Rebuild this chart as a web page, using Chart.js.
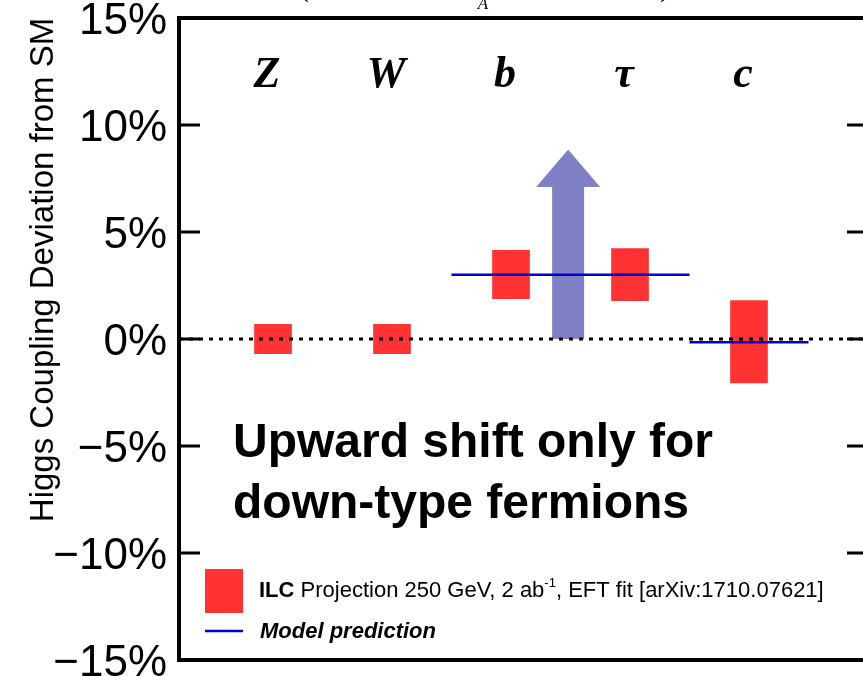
<!DOCTYPE html>
<html>
<head>
<meta charset="utf-8">
<script src="https://cdn.jsdelivr.net/npm/chart.js@4.4.1/dist/chart.umd.min.js"></script>
<style>
  html, body { margin: 0; padding: 0; overflow: hidden; background: #fff; }
  #wrap { width: 880px; height: 676px; }
</style>
</head>
<body>
<div id="wrap"><canvas id="myChart" width="880" height="676"></canvas></div>
<script>
// couplings along the x axis
var categories = ['Z', 'W', 'b', '\u03c4', 'c'];
var catPos = [1, 2, 3, 4, 5];

// ILC projection boxes (percent)
var ilcLow = [-0.69, -0.69, 1.88, 1.79, -2.05];
var ilcHigh = [0.68, 0.68, 4.14, 4.23, 1.79];

// model prediction segments
var modelFrom = [2.5, 4.5];
var modelTo = [4.5, 5.5];
var modelValue = [3.0, -0.15];

// shift arrow (percent)
var arrowX = 3.48;
var arrowBase = 0;
var arrowHeadBase = 7.1;
var arrowTip = 8.86;

var yTicks = [-15, -10, -5, 0, 5, 10, 15];
var xMin = 0.21, xMax = 6.0;

var SANS = '"Liberation Sans", Arial, Helvetica, sans-serif';
var SERIF = '"Liberation Serif", "Times New Roman", serif';

function pct(v) {
    return (v < 0 ? '\u2212' + Math.abs(v) : '' + v) + '%';
}

var boxData = [];
for (var i = 0; i < catPos.length; i++) {
    boxData.push({x: catPos[i], y: [ilcLow[i], ilcHigh[i]]});
}

var modelSets = [];
for (var j = 0; j < modelFrom.length; j++) {
    modelSets.push({
        type: 'line',
        data: [{x: modelFrom[j], y: modelValue[j]}, {x: modelTo[j], y: modelValue[j]}],
        borderColor: '#0000cc',
        borderWidth: 2.5,
        pointRadius: 0,
        order: 2
    });
}

var decor = {
    id: 'decor',
    beforeDatasetsDraw: function (chart) {
        var ctx = chart.ctx;
        var xs = chart.scales.x, ys = chart.scales.y;
        var cx = xs.getPixelForValue(arrowX);
        var yb = ys.getPixelForValue(arrowBase);
        var yh = ys.getPixelForValue(arrowHeadBase);
        var yt = ys.getPixelForValue(arrowTip);
        ctx.save();
        ctx.fillStyle = 'rgb(128,128,198)';
        ctx.beginPath();
        ctx.moveTo(cx - 16, yb);
        ctx.lineTo(cx - 16, yh);
        ctx.lineTo(cx - 32, yh);
        ctx.lineTo(cx, yt);
        ctx.lineTo(cx + 32, yh);
        ctx.lineTo(cx + 16, yh);
        ctx.lineTo(cx + 16, yb);
        ctx.closePath();
        ctx.fill();
        ctx.restore();
    },
    afterDraw: function (chart) {
        var ctx = chart.ctx;
        var a = chart.chartArea;
        var xs = chart.scales.x, ys = chart.scales.y;
        ctx.save();

        // frame
        ctx.strokeStyle = '#000';
        ctx.lineWidth = 4;
        ctx.strokeRect(a.left, a.top, a.right - a.left, a.bottom - a.top);

        // inward ticks on both sides
        ctx.lineWidth = 3;
        yTicks.forEach(function (t) {
            if (t === yTicks[0] || t === yTicks[yTicks.length - 1]) return;
            var y = ys.getPixelForValue(t);
            ctx.beginPath();
            ctx.moveTo(a.left, y);
            ctx.lineTo(a.left + 21, y);
            ctx.moveTo(a.right, y);
            ctx.lineTo(a.right - 21, y);
            ctx.stroke();
        });

        // coupling names
        ctx.fillStyle = '#000';
        ctx.textAlign = 'center';
        ctx.textBaseline = 'alphabetic';
        ctx.font = 'bold italic 44px ' + SERIF;
        categories.forEach(function (c, k) {
            ctx.fillText(c, xs.getPixelForValue(catPos[k]) - 6, 87);
        });

        // annotation
        ctx.textAlign = 'left';
        ctx.font = 'bold 48px ' + SANS;
        ctx.fillText('Upward shift only for', 233, 457);
        ctx.fillText('down-type fermions', 233, 518);

        // legend
        ctx.fillStyle = '#ff3333';
        ctx.fillRect(205, 569, 38, 44);
        ctx.strokeStyle = '#0000cc';
        ctx.lineWidth = 2.5;
        ctx.beginPath();
        ctx.moveTo(205, 631);
        ctx.lineTo(243, 631);
        ctx.stroke();

        ctx.fillStyle = '#000';
        var lx = 259, ly = 597;
        ctx.font = 'bold 22px ' + SANS;
        ctx.fillText('ILC', lx, ly);
        lx += ctx.measureText('ILC').width;
        ctx.font = '22px ' + SANS;
        var s1 = ' Projection 250 GeV, 2 ab';
        ctx.fillText(s1, lx, ly);
        lx += ctx.measureText(s1).width;
        ctx.font = '13px ' + SANS;
        ctx.fillText('-1', lx, ly - 10);
        lx += ctx.measureText('-1').width;
        ctx.font = '22px ' + SANS;
        ctx.fillText(', EFT fit [arXiv:1710.07621]', lx, ly);

        ctx.font = 'bold italic 22px ' + SANS;
        ctx.fillText('Model prediction', 260, 638);

        // y axis title
        ctx.save();
        ctx.translate(53, 270);
        ctx.rotate(-Math.PI / 2);
        ctx.textAlign = 'center';
        ctx.font = '33px ' + SANS;
        ctx.fillText('Higgs Coupling Deviation from SM', 0, 0);
        ctx.restore();

        // cut-off title at the top
        ctx.font = 'italic 17px ' + SERIF;
        ctx.textAlign = 'center';
        ctx.fillText('A', 483, 9);
        ctx.font = '30px ' + SERIF;
        ctx.fillText('(', 304, -4);
        ctx.fillText(')', 665, -4);

        ctx.restore();
    }
};

var ctx = document.getElementById('myChart');
var myChart = new Chart(ctx, {
    type: 'bar',
    data: {
        datasets: [{
                label: 'ILC',
                data: boxData,
                backgroundColor: '#ff3333',
                borderWidth: 0,
                borderSkipped: false,
                barThickness: 37,
                order: 3
            }].concat(modelSets).concat([{
                type: 'line',
                data: [{x: xMin, y: 0}, {x: xMax, y: 0}],
                borderColor: '#000',
                borderWidth: 3,
                borderDash: [4, 6],
                pointRadius: 0,
                order: 1
            }])
    },
    options: {
        responsive: false,
        animation: false,
        devicePixelRatio: 1,
        layout: {padding: {left: 0, top: 18, right: 12, bottom: 16}},
        plugins: {legend: {display: false}, tooltip: {enabled: false}},
        scales: {
            x: {type: 'linear', min: xMin, max: xMax, display: false, offset: false},
            y: {
                min: -15,
                max: 15,
                afterFit: function (s) {
                    s.width = 179;
                    s.paddingTop = 0;
                    s.paddingBottom = 0;
                },
                ticks: {
                    stepSize: 5,
                    padding: 12,
                    labelOffset: 4,
                    color: '#000',
                    font: {size: 44, family: SANS, lineHeight: 0.7},
                    callback: function (v) {
                        return pct(v);
                    }
                },
                grid: {display: false, drawTicks: false},
                border: {display: false}
            }
        }
    },
    plugins: [decor]
});
</script>
</body>
</html>
